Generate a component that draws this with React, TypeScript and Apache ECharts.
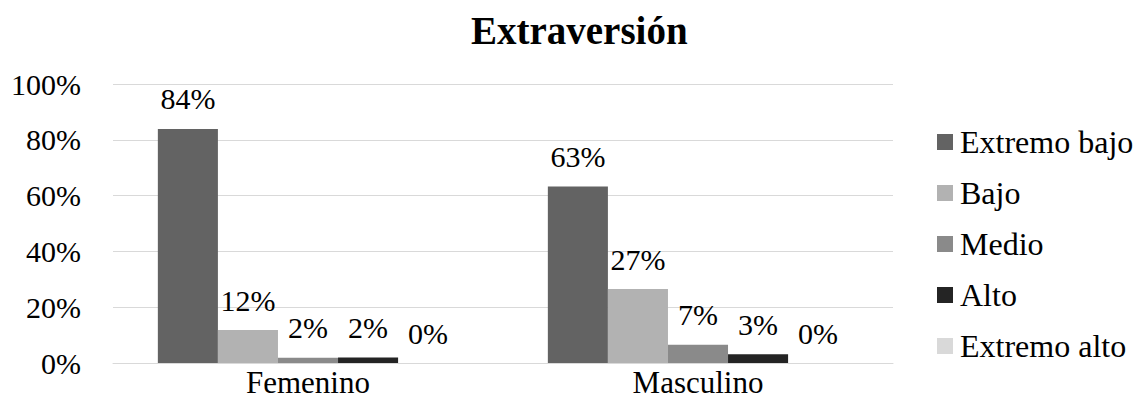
import React, { useEffect, useRef } from "react";
import * as echarts from "echarts";

const categories = ["Femenino", "Masculino"];
const seriesNames = ["Extremo bajo", "Bajo", "Medio", "Alto", "Extremo alto"];
const extremoBajo = [83.9, 63.3];
const bajo = [11.8, 26.5];
const medio = [1.9, 6.5];
const alto = [2.0, 3.1];
const extremoAlto = [0, 0];
const yTicks = [0, 20, 40, 60, 80, 100];
const colors = ["#636363", "#b2b2b2", "#8a8a8a", "#242424", "#d9d9d9"];

const FONT = "Liberation Serif";
const FS = 30;

export default function App() {
  const ref = useRef<HTMLDivElement>(null);
  useEffect(() => {
    if (!ref.current) return;
    const chart = echarts.init(ref.current, null, { renderer: "svg" });
    const values = [extremoBajo, bajo, medio, alto, extremoAlto];
    chart.setOption({
      animation: false,
      backgroundColor: "#ffffff",
      textStyle: { fontFamily: FONT },
      title: {
        text: "Extraversión",
        left: 466,
        top: 6,
        textStyle: { fontFamily: FONT, fontSize: 39, fontWeight: "bold", color: "#000" },
      },
      legend: {
        orient: "vertical",
        left: 937,
        top: 126,
        padding: 0,
        itemWidth: 16,
        itemHeight: 16,
        itemGap: 19,
        icon: "rect",
        data: seriesNames,
        textStyle: { fontFamily: FONT, fontSize: 32, color: "#000", padding: [0, 0, 0, 2] },
      },
      grid: { left: 113, right: 1137 - 893, top: 84, bottom: 413 - 363, containLabel: false },
      xAxis: {
        type: "category",
        data: categories,
        axisLine: { lineStyle: { color: "#d9d9d9", width: 1 } },
        axisTick: { show: false },
        axisLabel: { fontFamily: FONT, fontSize: 31, color: "#000", margin: 4 },
      },
      yAxis: {
        type: "value",
        min: yTicks[0],
        max: yTicks[yTicks.length - 1],
        interval: 20,
        axisLine: { show: false },
        axisTick: { show: false },
        splitLine: { lineStyle: { color: "#d9d9d9", width: 1 } },
        axisLabel: {
          fontFamily: FONT,
          fontSize: FS,
          color: "#000",
          margin: 32,
          formatter: (v: number) => v + "%",
        },
      },
      series: seriesNames.map((name, i) => ({
        name,
        type: "bar",
        data: values[i],
        barGap: "0%",
        barCategoryGap: "23%",
        itemStyle: { color: colors[i] },
        label: {
          show: true,
          position: "top",
          distance: 15,
          fontFamily: FONT,
          fontSize: FS,
          color: "#000",
          formatter: (p: any) => Math.round(p.value) + "%",
        },
      })),
    });
    return () => chart.dispose();
  }, []);
  return (
    <div
      ref={ref}
      style={{ position: "fixed", left: 0, top: 0, width: 1137, height: 413 }}
    />
  );
}
